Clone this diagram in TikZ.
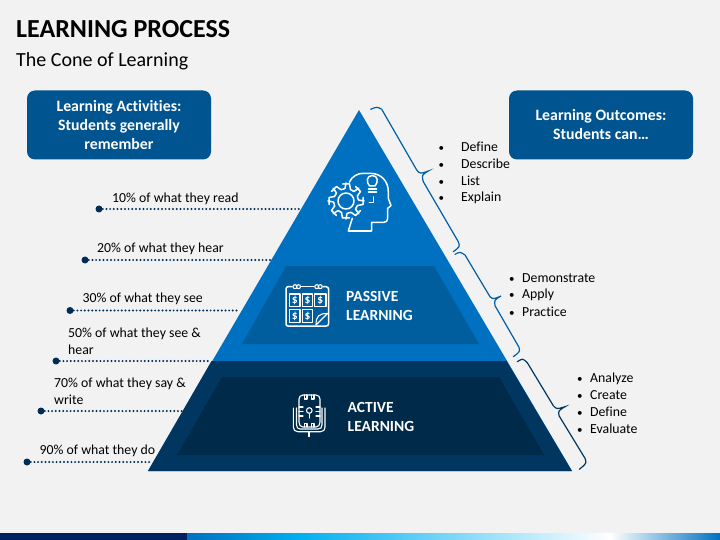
\documentclass[tikz,border=0pt]{standalone}
\usepackage{fontspec}
\setmainfont[Ligatures=NoCommon]{Carlito}
\usepackage{tikz}
\definecolor{pagebg}{HTML}{F2F2F2}
\definecolor{coneblue}{HTML}{0070C0}
\definecolor{coneblueb}{HTML}{005E9F}
\definecolor{conedark}{HTML}{003660}
\definecolor{conedarkb}{HTML}{002A4A}
\definecolor{boxblue}{HTML}{00548F}
\definecolor{dotblue}{HTML}{002D56}
\definecolor{barnavy}{HTML}{002060}
\definecolor{barsky}{HTML}{00B0F0}
\newcommand{\bul}[1]{\makebox[#1][l]{\fontsize{11}{11}\selectfont •}}

\begin{document}
\begin{tikzpicture}[x=1pt,y=-1pt,
    lbl/.style = {anchor=west, inner sep=0pt, font=\fontsize{13.8}{17}\selectfont, text=black, align=left},
    hdr/.style = {draw=none, fill=boxblue, rounded corners=8pt, text=white, align=center,
        font=\bfseries\fontsize{15.8}{19}\selectfont, inner sep=0pt},
    lvl/.style = {anchor=west, inner sep=0pt, text=white, align=left, font=\bfseries\fontsize{15.5}{19}\selectfont},
    dotend/.style = {circle, fill=dotblue, inner sep=0pt, minimum size=7pt},
    leader/.style = {dotblue, line width=2.2pt, line cap=round, dash pattern=on 0pt off 3.7pt},
    brc/.style = {line width=1.2pt, line cap=round},
    ico/.style = {white, line width=1.5pt, line join=round, line cap=round},
    usd/.style = {inner sep=0pt, text=white, font=\bfseries\fontsize{11.5}{12}\selectfont}]
        % page and bottom bar
        \fill[pagebg] (0,0) rectangle (720,540);
        \fill[barnavy] (0,533) rectangle (187,540);
        \shade[left color=coneblue, right color=barsky] (187,533) rectangle (300,540);
        \shade[left color=barsky, right color=white] (300,533) rectangle (610,540);
        \shade[left color=white, right color=coneblue] (610,533) rectangle (720,540);
        % titles
        \node[anchor=west, inner sep=0pt, font=\bfseries\fontsize{26}{30}\selectfont] (title) at (16,29) {LEARNING PROCESS};
        \node[anchor=west, inner sep=0pt, font=\fontsize{20}{24}\selectfont] (subtitle) at (16,61) {The Cone of Learning};
        % cone
        \fill[coneblue] (359,110) -- (148,471) -- (572,471) -- cycle;
        \fill[conedark] (211.5,361) -- (148,471) -- (572,471) -- (506.5,361) -- cycle;
        \fill[coneblueb] (286,266) -- (434,266) -- (479,344) -- (242,344) -- cycle;
        \fill[conedarkb] (222,377) -- (499,377) -- (544,455) -- (177,455) -- cycle;
        % header boxes
        \node[hdr, minimum width=184pt, minimum height=69pt] (activities) at (119,125) {Learning Activities:\\Students generally\\remember};
        \node[hdr, minimum width=184pt, minimum height=69pt] (outcomes) at (601,125) {Learning Outcomes:\\Students can…};
        % leaders on the left
        \node[dotend] (d1) at (99,209) {};
        \node[dotend] (d2) at (85,260) {};
        \node[dotend] (d3) at (70,310.5) {};
        \node[dotend] (d4) at (56,361) {};
        \node[dotend] (d5) at (41,411) {};
        \node[dotend] (d6) at (27,462) {};
        \coordinate (e1) at (299,209);
        \coordinate (e2) at (270,260);
        \coordinate (e3) at (240,310.5);
        \coordinate (e4) at (211,361);
        \coordinate (e5) at (182,411);
        \coordinate (e6) at (152,462);
        \draw[leader] (d1) -- (e1);
        \draw[leader] (d2) -- (e2);
        \draw[leader] (d3) -- (e3);
        \draw[leader] (d4) -- (e4);
        \draw[leader] (d5) -- (e5);
        \draw[leader] (d6) -- (e6);
        \node[lbl] (t1) at (112,198.5) {10\% of what they read};
        \node[lbl] (t2) at (97,248.5) {20\% of what they hear};
        \node[lbl] (t3) at (82.5,299) {30\% of what they see};
        \node[lbl] (t4) at (68,341) {50\% of what they see \&\\hear};
        \node[lbl] (t5) at (54,391) {70\% of what they say \&\\write};
        \node[lbl] (t6) at (39.5,450.5) {90\% of what they do};
        % braces
        \draw[brc, coneblue!85!black] (370.7,109.3) .. controls (377,106.7) .. (381.7,109.3) -- (416.7,170) .. controls (420,174) .. (428.3,171)
            .. controls (421.7,175) .. (423.3,181.7) -- (458.3,241.7) .. controls (460,246.7) .. (453.3,251.7);
        \draw[brc, coneblue!85!black] (455,254.3) .. controls (460,251.7) .. (465,255) -- (490,296.7) .. controls (493.3,299.3) .. (501,296)
            .. controls (494.3,300) .. (495,305.7) -- (519,347.3) .. controls (520,351.7) .. (513.3,356.7);
        \draw[brc, conedark] (517.3,361.7) .. controls (522.7,358.3) .. (527.3,362.7) -- (553.3,405.7) .. controls (556.7,409.3) .. (565,406.7)
            .. controls (558.3,410.7) .. (559,415.7) -- (585,458.3) .. controls (586.7,463.3) .. (579.3,469.3);
        % lists on the right
        \node[lbl] (a1) at (438.5,146.5) {\bul{22.5pt}Define};
        \node[lbl] (a2) at (438.5,163.5) {\bul{22.5pt}Describe};
        \node[lbl] (a3) at (438.5,180.5) {\bul{22.5pt}List};
        \node[lbl] (a4) at (438.5,197.5) {\bul{22.5pt}Explain};
        \node[lbl] (b1) at (509,278) {\bul{13pt}Demonstrate};
        \node[lbl] (b2) at (509,295) {\bul{13pt}Apply};
        \node[lbl] (b3) at (509,311.5) {\bul{13pt}Practice};
        \node[lbl] (c1) at (577,378.5) {\bul{13pt}Analyze};
        \node[lbl] (c2) at (577,395) {\bul{13pt}Create};
        \node[lbl] (c3) at (577,411.5) {\bul{13pt}Define};
        \node[lbl] (c4) at (577,428.5) {\bul{13pt}Evaluate};
        % level names
        \node[lvl] (passive) at (346,305.5) {PASSIVE\\LEARNING};
        \node[lvl] (active) at (347.5,416.5) {ACTIVE\\LEARNING};
        % head and gear
        \draw[ico] (349.3,182.3) .. controls (352,176) and (358,173.3) .. (363.3,173.3) -- (370,173.3)
            .. controls (381,173.3) and (388.3,181) .. (388.3,191.7) -- (388.3,198.3) -- (391,205.7) -- (387.7,208.3) -- (387.7,218.3)
            .. controls (387.7,221) and (386,222.3) .. (384,222.3) -- (371.7,222.3) -- (371.7,231) -- (348.3,231) -- (352.3,218.3);
        \draw[ico] (346,201) circle (8);
        \foreach \a in {0,45,...,315}
            \draw[ico, rotate around={\a:(346,201)}] (342.5,184) -- (349.5,184) -- (350.5,189.5) .. controls (352.5,190) .. (354,191.5) -- (358.8,188.2);
        \draw[ico] (369.5,186) .. controls (366,182) and (366.5,175.5) .. (372.3,175.5) .. controls (378,175.5) and (378.6,182) .. (375,186) -- (369.5,186);
        \draw[ico] (368.5,188.8) -- (376.5,188.8);
        \draw[ico] (368.5,191.8) -- (376.5,191.8);
        \draw[ico] (373.3,197) -- (373.3,202.5) -- (369.3,202.5);
        % calendar
        \draw[ico] (292,286.7) -- (288,286.7) .. controls (287,286.7) and (286,287.7) .. (286,289) -- (286,324) .. controls (286,325.5) and (287,326) .. (288,326) -- (326,326) .. controls (327.5,326) and (328.5,325.5) .. (328.5,324) -- (328.5,289) .. controls (328.5,287.7) and (327.5,286.7) .. (326,286.7) -- (323,286.7);
        \draw[ico] (301,286.7) -- (314,286.7);
        \draw[ico, line width=1.1pt] (295,286.7) circle (2);
        \draw[ico, line width=1.1pt] (298.5,286.7) circle (2);
        \draw[ico, line width=1.1pt] (316.8,286.7) circle (2);
        \draw[ico, line width=1.1pt] (320.2,286.7) circle (2);
        \draw[ico, line width=1.1pt] (289.3,294) rectangle (300,306.7);
        \draw[ico, line width=1.1pt] (302.3,294) rectangle (312.7,306.7);
        \draw[ico, line width=1.1pt] (314.7,294) rectangle (326,306.7);
        \draw[ico, line width=1.1pt] (289.3,309.3) rectangle (300,322.7);
        \draw[ico, line width=1.1pt] (302.3,309.3) rectangle (312.7,322.7);
        \draw[ico, line width=1.1pt] (316,325) .. controls (316,316) and (319,313.5) .. (327.5,313.5) -- (316,325);
        \node[usd] (u1) at (294.7,300.3) {\$};
        \node[usd] (u2) at (307.5,300.3) {\$};
        \node[usd] (u3) at (320.3,300.3) {\$};
        \node[usd] (u4) at (294.7,316) {\$};
        \node[usd] (u5) at (307.5,316) {\$};
        % microphone
        \draw[ico, line width=1.1pt] (303,395) -- (316,395) .. controls (318.5,395) and (320,397) .. (320,399) -- (320,422) .. controls (320,425) and (318.5,427) .. (316,427) -- (303,427) .. controls (300.5,427) and (299,425) .. (299,422) -- (299,399) .. controls (299,397) and (300.5,395) .. (303,395);
        \draw[ico, line width=1.1pt] (293.3,408) -- (293.3,427) .. controls (293.3,430) and (295,431.7) .. (298,431.7) -- (320.5,431.7) .. controls (323.5,431.7) and (325,430) .. (325,427) -- (325,408);
        \draw[ico, line width=1.1pt] (296.5,408) -- (296.5,425) .. controls (296.5,427.5) and (298,429) .. (300,429) -- (318,429) .. controls (320.5,429) and (322,427.5) .. (322,425) -- (322,408);
        \draw[ico, line width=1.1pt] (309,432) -- (309,436.5);
        \draw[ico, line width=1.1pt] (309.3,410.5) circle (2.8);
        \draw[ico, line width=1.1pt] (309.3,413.3) -- (309.3,418);
        \draw[ico, line width=1.1pt] (304.5,395) -- (304.5,399) -- (307,399) -- (307,395);
        \draw[ico, line width=1.1pt] (311.5,395) -- (311.5,399) -- (314,399) -- (314,395);
        \draw[ico, line width=1.1pt] (304.5,427) -- (304.5,423.5) -- (307,423.5) -- (307,427);
        \draw[ico, line width=1.1pt] (311.5,427) -- (311.5,423.5) -- (314,423.5) -- (314,427);
        \draw[ico, line width=1.1pt] (299,407) -- (303,407);
        \draw[ico, line width=1.1pt] (299,411.5) -- (303,411.5);
        \draw[ico, line width=1.1pt] (299,416) -- (303,416);
        \draw[ico, line width=1.1pt] (316,407) -- (320,407);
        \draw[ico, line width=1.1pt] (316,411.5) -- (320,411.5);
        \draw[ico, line width=1.1pt] (316,416) -- (320,416);
\end{tikzpicture}
\end{document}
